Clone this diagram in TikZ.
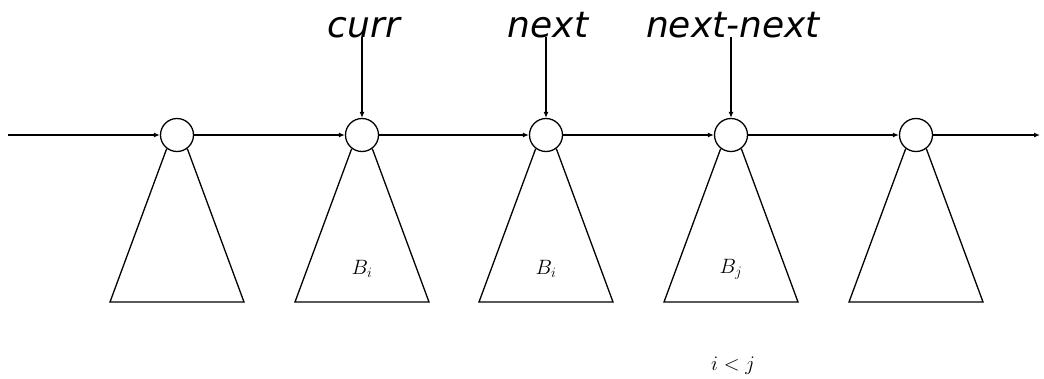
\documentclass[tikz,border=0pt]{standalone}
\usepackage{fontspec}
\newfontfamily\ptrfont{DejaVu Sans}
\usetikzlibrary{positioning, arrows.meta, calc}

\begin{document}
\begin{tikzpicture}[
    x=1pt, y=-1pt,
    elem/.style={circle, draw, line width=1.3pt, minimum size=33pt, inner sep=0pt},
    tree/.style={draw, line width=1.3pt},
    link/.style={-{Latex[length=6pt,width=5pt]}, line width=1.3pt},
    ptrlabel/.style={anchor=base, inner sep=0pt, font=\ptrfont\itshape\fontsize{36}{40}\selectfont},
    mathlabel/.style={inner sep=0pt, font=\fontsize{21}{25}\selectfont}
]
\useasboundingbox (0,0) rectangle (1044,378);

% list elements
\foreach \i/\x in {1/177, 2/362, 3/546, 4/731, 5/916}{
    \node[elem] (n\i) at (\x,135) {};
    \draw[tree] (n\i.-127) -- (\x-67,302) -- (\x+67,302) -- (n\i.-53);
}

% list links
\coordinate (head) at (8,135);
\coordinate (tail) at (1040,135);
\draw[link] (head) -- (n1);
\draw[link] (n1) -- (n2);
\draw[link] (n2) -- (n3);
\draw[link] (n3) -- (n4);
\draw[link] (n4) -- (n5);
\draw[link] (n5) -- (tail);

% pointers
\node[ptrlabel] (curr) at (364,37) {curr};
\node[ptrlabel] (next) at (548,37) {next};
\node[ptrlabel] (nextnext) at (733,37) {next-next};
\draw[link] (n2 |- curr.base) -- (n2);
\draw[link] (n3 |- next.base) -- (n3);
\draw[link] (n4 |- nextnext.base) -- (n4);

% block labels
\node[mathlabel] (b2) at (362,269) {$B_i$};
\node[mathlabel] (b3) at (546,269) {$B_i$};
\node[mathlabel] (b4) at (731,269) {$B_j$};
\node[mathlabel] (cond) at (733,366) {$i<j$};
\end{tikzpicture}
\end{document}
